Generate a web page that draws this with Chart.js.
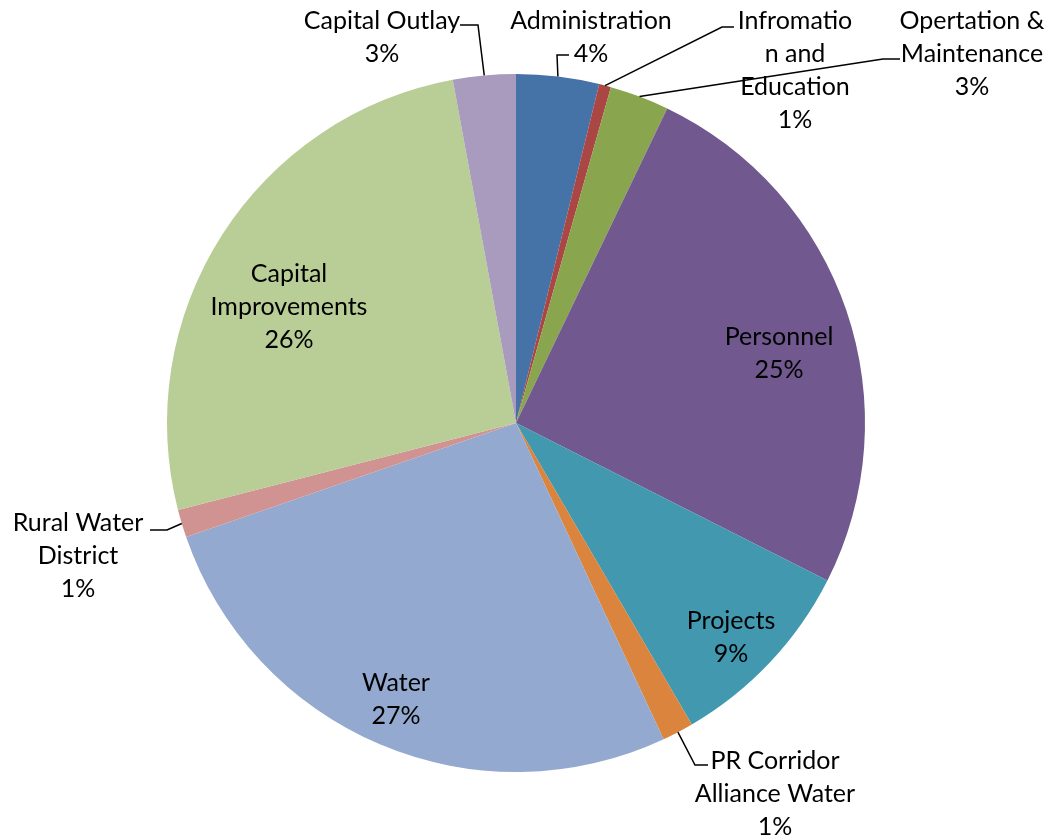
<!DOCTYPE html>
<html>
<head>
<meta charset="utf-8">
<script src="https://cdn.jsdelivr.net/npm/chart.js@4.4.1/dist/chart.umd.min.js"></script>
<style>
  html, body { margin: 0; padding: 0; background: #fff; }
  #wrap { width: 1059px; height: 840px; }
</style>
</head>
<body>
<div id="wrap"><canvas id="pie" width="1059" height="840"></canvas></div>
<script>
// budget share by category (percent), clockwise from 12 o'clock
const categories = [
  'Administration', 'Infromatio\nn and\nEducation', 'Opertation &\nMaintenance',
  'Personnel', 'Projects', 'PR Corridor\nAlliance Water', 'Water',
  'Rural Water\nDistrict', 'Capital\nImprovements', 'Capital Outlay'
];
const shares = [3.83, 0.55, 2.75, 25.31, 9.14, 1.45, 26.65, 1.28, 26.1, 2.9];
const colors = ['#4572A7', '#AA4643', '#89A54E', '#71588F', '#4198AF',
                '#DB843D', '#93A9CF', '#D19392', '#B9CD96', '#A99BBD'];

// where each data label sits: centre x, first line y, and leader elbow (null = inside)
const labelPos = [
  { x: 591, y: 21, lead: [[569, 55], [557, 55]] },
  { x: 795, y: 21, lead: [[734, 27], [722, 27]] },
  { x: 972, y: 21, lead: [[900, 59], [883, 59]] },
  { x: 779, y: 337, lead: null },
  { x: 731, y: 621, lead: null },
  { x: 775, y: 761, lead: [[708, 765], [695, 765]] },
  { x: 396, y: 683, lead: null },
  { x: 78, y: 523, lead: [[150, 530], [167, 530]] },
  { x: 289, y: 274, lead: null },
  { x: 382, y: 21, lead: [[460, 25], [478, 25]] }
];

const LINE = 33;

const dataLabels = {
  id: 'dataLabels',
  afterDraw(chart) {
    const ctx = chart.ctx;
    const meta = chart.getDatasetMeta(0);
    const total = shares.reduce((a, b) => a + b, 0);
    ctx.save();
    ctx.beginPath();
    ctx.rect(0, 0, 1045, chart.height);
    ctx.clip();
    meta.data.forEach((arc, i) => {
      const p = labelPos[i];
      if (p.lead) {
        const mid = (arc.startAngle + arc.endAngle) / 2;
        const ex = arc.x + Math.cos(mid) * arc.outerRadius;
        const ey = arc.y + Math.sin(mid) * arc.outerRadius;
        ctx.beginPath();
        ctx.moveTo(p.lead[0][0], p.lead[0][1]);
        ctx.lineTo(p.lead[1][0], p.lead[1][1]);
        ctx.lineTo(ex, ey);
        ctx.strokeStyle = '#000';
        ctx.lineWidth = 1.5;
        ctx.stroke();
      }
      const lines = categories[i].split('\n');
      lines.push(Math.round(shares[i] / total * 100) + '%');
      ctx.fillStyle = '#000';
      ctx.font = '25px Lato';
      ctx.textAlign = 'center';
      ctx.textBaseline = 'middle';
      lines.forEach((t, k) => ctx.fillText(t, p.x, p.y + k * LINE));
    });
    ctx.restore();
  }
};

new Chart(document.getElementById('pie'), {
  type: 'pie',
  data: {
    labels: categories,
    datasets: [{
      data: shares,
      backgroundColor: colors,
      borderWidth: 0
    }]
  },
  options: {
    responsive: false,
    animation: false,
    layout: { padding: { top: 74, bottom: 68, left: 167, right: 194 } },
    plugins: {
      legend: { display: false },
      tooltip: { enabled: false }
    }
  },
  plugins: [dataLabels]
});
</script>
</body>
</html>
